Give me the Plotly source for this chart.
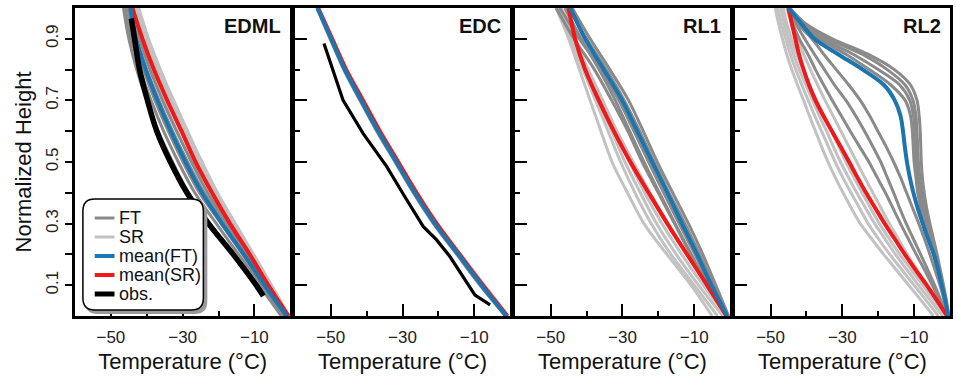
import plotly.graph_objects as go

# ---------------- data ----------------
H = [1.0, 0.9, 0.8, 0.7, 0.6, 0.5, 0.4, 0.3, 0.2, 0.1, 0.0]
H_FINE = [1.0, 0.95, 0.9, 0.85, 0.8, 0.75, 0.7, 0.65, 0.6, 0.55, 0.5,
          0.45, 0.4, 0.35, 0.3, 0.25, 0.2, 0.15, 0.1, 0.05, 0.0]

SITES = ["EDML", "EDC", "RL1", "RL2"]

# EDML
EDML_FT = [
    [-46.5, -45.0, -42.8, -40.0, -36.8, -32.8, -28.3, -22.3, -15.8, -8.8, -2.5],
    [-46.0, -44.3, -41.8, -38.8, -35.3, -31.2, -26.6, -20.6, -14.4, -7.9, -1.8],
    [-45.3, -43.5, -40.9, -37.7, -34.0, -29.9, -25.3, -19.3, -13.3, -7.3, -1.4],
    [-44.8, -42.8, -40.0, -36.6, -32.8, -28.6, -24.0, -18.2, -12.4, -6.8, -1.0],
    [-44.2, -42.0, -39.1, -35.6, -31.7, -27.5, -23.0, -17.4, -11.8, -6.4, -0.8],
]
EDML_SR = [
    [-44.0, -41.8, -38.8, -35.3, -31.5, -27.5, -23.0, -17.6, -11.9, -6.2, -0.7],
    [-43.4, -41.0, -37.9, -34.3, -30.4, -26.4, -21.9, -16.7, -11.2, -5.8, -0.5],
    [-42.8, -40.2, -37.0, -33.3, -29.4, -25.4, -21.0, -15.9, -10.6, -5.4, -0.4],
    [-42.2, -39.5, -36.2, -32.5, -28.6, -24.6, -20.3, -15.3, -10.2, -5.2, -0.3],
]
EDML_MEAN_FT = [-44.6, -43.0, -40.3, -37.0, -33.3, -29.2, -24.6, -19.0, -12.9, -7.2, -1.0]
EDML_MEAN_SR = [-44.0, -41.2, -38.0, -34.3, -30.3, -26.4, -21.8, -16.8, -11.3, -6.1, -0.5]
EDML_OBS_H = [0.966, 0.9, 0.8, 0.7, 0.6, 0.5, 0.4, 0.3, 0.2, 0.1, 0.065]
EDML_OBS_T = [-44.3, -43.4, -42.0, -39.8, -37.2, -33.4, -28.8, -22.8, -15.9, -9.5, -7.5]

# EDC
EDC_FT = [
    [-53.9, -50.2, -46.4, -41.9, -37.2, -32.1, -27.0, -21.4, -14.9, -8.4, -1.3],
    [-53.6, -49.8, -45.9, -41.3, -36.6, -31.5, -26.3, -20.7, -14.2, -7.7, -0.9],
]
EDC_SR = [
    [-53.6, -49.7, -45.8, -41.1, -36.4, -31.3, -26.0, -20.3, -13.8, -7.2, -0.5],
    [-53.8, -50.0, -46.2, -41.6, -36.9, -31.8, -26.7, -21.1, -14.6, -8.1, -1.2],
]
EDC_MEAN_FT = [-53.7, -49.9, -46.1, -41.5, -36.8, -31.7, -26.6, -21.0, -14.5, -8.0, -1.1]
EDC_MEAN_SR = [-53.5, -49.6, -45.7, -41.0, -36.3, -31.2, -26.1, -20.5, -14.1, -7.6, -0.8]
EDC_OBS_H = [0.885, 0.701, 0.593, 0.485, 0.388, 0.290, 0.247, 0.193, 0.068, 0.036]
EDC_OBS_T = [-51.9, -46.6, -41.0, -34.4, -29.4, -24.2, -20.5, -16.8, -9.8, -5.6]

# RL1
RL1_FT = [
    [-44.0, -39.0, -33.5, -28.3, -24.2, -20.3, -16.0, -11.6, -7.6, -4.0, -0.4],
    [-45.0, -40.0, -34.5, -29.5, -25.2, -21.2, -17.0, -12.6, -8.5, -4.6, -0.6],
    [-47.5, -42.0, -36.0, -31.0, -26.8, -22.7, -18.5, -14.2, -9.8, -5.6, -0.8],
    [-48.5, -43.5, -37.8, -33.0, -28.5, -24.5, -20.0, -15.5, -11.0, -6.5, -1.0],
    [-46.0, -41.5, -36.5, -32.0, -28.0, -24.0, -19.7, -15.3, -10.8, -6.2, -1.0],
]
RL1_SR = [
    [-48.5, -45.0, -42.0, -39.0, -36.0, -32.9, -28.6, -24.0, -17.6, -10.9, -5.0],
    [-48.0, -44.5, -41.0, -37.5, -34.0, -30.5, -26.5, -22.0, -16.5, -10.0, -3.5],
    [-47.0, -44.0, -40.5, -36.8, -33.0, -29.3, -25.0, -20.5, -15.0, -8.8, -2.0],
    [-46.0, -43.8, -40.0, -36.0, -32.0, -28.0, -23.8, -19.0, -13.5, -7.5, -1.0],
    [-45.5, -43.5, -39.5, -35.5, -31.5, -27.0, -22.3, -17.3, -12.0, -6.5, -0.5],
]
RL1_MEAN_FT = [-44.5, -40.4, -35.2, -30.1, -25.9, -21.7, -17.5, -13.4, -9.2, -5.2, -0.8]
RL1_MEAN_SR = [-45.0, -43.2, -40.4, -36.6, -32.4, -27.8, -22.7, -17.5, -12.0, -6.4, -1.0]

# RL2 (fine height grid)
RL2_FT = [
    [-44.6, -40.3, -32.8, -22.9, -15.5, -11.0, -9.2, -8.6, -8.3, -8.15, -8.0,
     -7.7, -7.2, -6.5, -5.6, -4.6, -3.6, -2.7, -1.8, -1.0, -0.3],
    [-44.8, -41.0, -34.0, -24.5, -17.5, -12.5, -10.3, -9.5, -9.2, -9.0, -8.8,
     -8.4, -7.9, -7.1, -6.1, -5.1, -4.0, -3.0, -2.0, -1.2, -0.4],
    [-45.0, -41.5, -35.5, -27.0, -20.0, -14.0, -11.2, -10.2, -9.8, -9.6, -9.4,
     -9.0, -8.5, -7.6, -6.6, -5.5, -4.3, -3.2, -2.2, -1.3, -0.5],
    [-45.2, -42.0, -36.5, -29.0, -22.5, -16.5, -12.5, -11.0, -10.5, -10.25, -10.0,
     -9.5, -9.0, -8.1, -7.0, -5.8, -4.6, -3.4, -2.3, -1.4, -0.5],
    [-45.0, -42.5, -38.5, -35.2, -31.7, -28.2, -25.0, -22.4, -20.1, -17.8, -15.7,
     -13.8, -12.1, -10.4, -8.7, -7.1, -5.6, -4.2, -2.8, -1.6, -0.6],
    [-45.0, -43.0, -40.5, -37.8, -35.0, -32.2, -29.0, -26.3, -23.8, -21.5, -19.3,
     -17.5, -15.7, -14.0, -12.2, -10.2, -8.2, -6.2, -4.3, -2.5, -0.8],
    [-45.2, -43.8, -42.0, -39.6, -37.5, -35.2, -32.8, -30.3, -27.8, -25.2, -22.6,
     -20.3, -18.0, -15.9, -13.8, -11.6, -9.4, -7.1, -4.9, -2.8, -0.8],
]
RL2_SR = [
    [-48.7, -47.8, -46.7, -45.5, -44.1, -42.5, -40.8, -39.2, -37.5, -35.8, -34.0,
     -32.0, -29.8, -27.5, -25.0, -21.8, -18.5, -15.0, -11.5, -8.0, -4.6],
    [-48.0, -47.0, -45.8, -44.5, -43.0, -41.3, -39.5, -37.7, -35.8, -33.9, -32.0,
     -29.9, -27.6, -25.2, -22.8, -19.9, -16.8, -13.4, -10.0, -6.6, -3.2],
    [-47.2, -46.2, -45.0, -43.6, -42.0, -40.2, -38.3, -36.4, -34.4, -32.5, -30.5,
     -28.3, -26.0, -23.5, -21.0, -18.1, -15.2, -12.0, -8.8, -5.4, -2.0],
    [-46.5, -45.5, -44.2, -42.7, -41.0, -39.2, -37.2, -35.2, -33.0, -31.0, -29.0,
     -26.8, -24.5, -22.1, -19.7, -16.9, -14.0, -10.8, -7.6, -4.3, -1.0],
    [-45.5, -44.2, -42.6, -40.8, -38.9, -36.9, -34.8, -32.6, -30.4, -28.2, -26.0,
     -23.8, -21.5, -19.2, -16.9, -14.4, -11.9, -9.2, -6.4, -3.5, -0.6],
]
RL2_MEAN_FT = [-45.0, -41.5, -37.8, -31.2, -24.3, -18.4, -15.4, -13.8, -13.1, -12.6, -12.0,
               -11.2, -10.2, -9.0, -7.6, -6.1, -4.5, -3.3, -2.3, -1.3, -0.5]
RL2_MEAN_SR = [-45.0, -44.1, -43.1, -42.1, -40.8, -39.3, -37.5, -35.3, -32.9, -30.5, -28.1,
               -25.8, -23.4, -20.8, -18.2, -15.4, -12.6, -9.6, -6.5, -3.6, -0.8]

LEGEND_NAMES = ["FT", "SR", "mean(FT)", "mean(SR)", "obs."]

X_TICKS = [-50, -30, -10]
Y_TICKS = [0.1, 0.3, 0.5, 0.7, 0.9]
Y_MINOR = [0.2, 0.4, 0.6, 0.8]

# ---------------- styling ----------------
C_FT = "#8a8a8a"
C_SR = "#c2c2c2"
C_MFT = "#1d75b0"
C_MSR = "#f01818"
C_OBS = "#000000"
FONT = "Liberation Sans, Arial, sans-serif"

W, H_PX = 956, 377
ML, MR, MT, MB = 75, 3, 8, 61
PW = W - ML - MR
PANEL_W = 216
GAP = (PW - 4 * PANEL_W) / 3

panels = {
    "EDML": dict(h=H, ft=EDML_FT, sr=EDML_SR, mft=EDML_MEAN_FT, msr=EDML_MEAN_SR,
                 obs=(EDML_OBS_H, EDML_OBS_T), obs_w=5.5, obs_shape="spline"),
    "EDC": dict(h=H, ft=EDC_FT, sr=EDC_SR, mft=EDC_MEAN_FT, msr=EDC_MEAN_SR,
                obs=(EDC_OBS_H, EDC_OBS_T), obs_w=3.2, obs_shape="linear"),
    "RL1": dict(h=H, ft=RL1_FT, sr=RL1_SR, mft=RL1_MEAN_FT, msr=RL1_MEAN_SR, obs=None),
    "RL2": dict(h=H_FINE, ft=RL2_FT, sr=RL2_SR, mft=RL2_MEAN_FT, msr=RL2_MEAN_SR, obs=None),
}

fig = go.Figure()
layout = dict(
    width=W, height=H_PX,
    margin=dict(l=ML, r=MR, t=MT, b=MB, pad=0),
    paper_bgcolor="white", plot_bgcolor="white",
    showlegend=False,
    font=dict(family=FONT, color="#1a1a1a"),
)

for i, site in enumerate(SITES):
    k = i + 1
    sx = "" if k == 1 else str(k)
    xa, ya = "x" + sx, "y" + sx
    d = panels[site]
    for t in d["sr"]:
        fig.add_trace(go.Scatter(x=t, y=d["h"], xaxis=xa, yaxis=ya, mode="lines",
                                 line=dict(color=C_SR, width=3, shape="spline", smoothing=0.9),
                                 hoverinfo="skip"))
    for t in d["ft"]:
        fig.add_trace(go.Scatter(x=t, y=d["h"], xaxis=xa, yaxis=ya, mode="lines",
                                 line=dict(color=C_FT, width=3, shape="spline", smoothing=0.9),
                                 hoverinfo="skip"))
    fig.add_trace(go.Scatter(x=d["msr"], y=d["h"], xaxis=xa, yaxis=ya, mode="lines",
                             line=dict(color=C_MSR, width=4, shape="spline", smoothing=0.9)))
    fig.add_trace(go.Scatter(x=d["mft"], y=d["h"], xaxis=xa, yaxis=ya, mode="lines",
                             line=dict(color=C_MFT, width=4, shape="spline", smoothing=0.9)))
    if d["obs"] is not None:
        oh, ot = d["obs"]
        fig.add_trace(go.Scatter(x=ot, y=oh, xaxis=xa, yaxis=ya, mode="lines",
                                 line=dict(color=C_OBS, width=d["obs_w"], shape=d["obs_shape"]),
                                 hoverinfo="skip"))

    x0 = i * (PANEL_W + GAP) / PW
    x1 = (i * (PANEL_W + GAP) + PANEL_W) / PW
    layout["xaxis" + sx] = dict(
        domain=[x0, x1], anchor=ya, range=[-60, 0],
        tickmode="array", tickvals=X_TICKS, ticktext=["\u221250", "\u221230", "\u221210"],
        ticks="inside", ticklen=12, tickwidth=2, tickcolor="black", ticklabelstandoff=4,
        minor=dict(tickvals=[-40, -20], ticks="inside", ticklen=5, tickwidth=2, tickcolor="black"),
        showline=True, linewidth=3, linecolor="black", mirror=True,
        showgrid=False, zeroline=False,
        tickfont=dict(size=17, color="#222"),
        title=dict(text="Temperature (\u00b0C)", font=dict(size=22, color="#111"), standoff=8),
    )
    left = dict(domain=[0, 1], anchor=xa, range=[0, 1], showgrid=False, zeroline=False,
                showline=True, linewidth=3, linecolor="black", mirror=True,
                tickmode="array", tickvals=Y_TICKS, tickwidth=2, tickcolor="black")
    if k == 1:
        left.update(ticks="outside", ticklen=7, tickangle=-90, tickfont=dict(size=17, color="#222"),
                    minor=dict(tickvals=Y_MINOR, ticks="outside", ticklen=7,
                               tickwidth=2, tickcolor="black"),
                    title=dict(text="Normalized Height", font=dict(size=22, color="#111"), standoff=6))
    else:
        left.update(showticklabels=False, ticks="inside", ticklen=12,
                    minor=dict(tickvals=Y_MINOR, ticks="inside", ticklen=5,
                               tickwidth=2, tickcolor="black"))
    layout["yaxis" + sx] = left
    layout["yaxis" + str(k + 4)] = dict(
        overlaying=ya, side="right", anchor=xa, range=[0, 1], showgrid=False, zeroline=False,
        showticklabels=False, tickmode="array",
        tickvals=[0.1, 0.2, 0.3, 0.4, 0.5, 0.6, 0.7, 0.8, 0.9],
        ticks="inside", ticklen=7, tickwidth=2, tickcolor="black", showline=False,
    )

annotations = []
shapes = []
for i, site in enumerate(SITES):
    sx = "" if i == 0 else str(i + 1)
    annotations.append(dict(text="<b>" + site + "</b>", x=1, y=1, xref="x" + sx + " domain",
                            yref="y" + sx + " domain", xanchor="right", yanchor="top",
                            xshift=-7, yshift=-5, showarrow=False,
                            font=dict(size=20, color="#111", family=FONT)))

# legend (custom, inside EDML panel)
PX_W = PANEL_W + 2
def dx(px):
    return (px - ML) / PX_W
def dy(py):
    return (H_PX - MB - py) / (H_PX - MT - MB)

def rounded(xa, ya, xb, yb, r):
    rx, ry = r / PX_W, r / (H_PX - MT - MB)
    X0, X1, Y0, Y1 = dx(xa), dx(xb), dy(yb), dy(ya)
    return (f"M {X0+rx},{Y0} L {X1-rx},{Y0} Q {X1},{Y0} {X1},{Y0+ry} "
            f"L {X1},{Y1-ry} Q {X1},{Y1} {X1-rx},{Y1} L {X0+rx},{Y1} "
            f"Q {X0},{Y1} {X0},{Y1-ry} L {X0},{Y0+ry} Q {X0},{Y0} {X0+rx},{Y0} Z")

shapes.append(dict(type="path", xref="x domain", yref="y domain",
                   path=rounded(86, 202, 208, 313, 12), fillcolor="#9a9a9a",
                   line=dict(color="#9a9a9a", width=2)))
shapes.append(dict(type="path", xref="x domain", yref="y domain",
                   path=rounded(83, 199, 205, 310, 12), fillcolor="white",
                   line=dict(color="black", width=1.5)))
leg_colors = [C_FT, C_SR, C_MFT, C_MSR, C_OBS]
leg_widths = [3, 3, 4, 4, 5]
for j, name in enumerate(LEGEND_NAMES):
    py = 218 + j * 19
    shapes.append(dict(type="line", xref="x domain", yref="y domain",
                       x0=dx(95), x1=dx(115), y0=dy(py), y1=dy(py),
                       line=dict(color=leg_colors[j], width=leg_widths[j])))
    annotations.append(dict(text=name, x=dx(118), y=dy(py), xref="x domain", yref="y domain",
                            xanchor="left", yanchor="middle", showarrow=False,
                            font=dict(size=18, color="#111", family=FONT)))

layout["annotations"] = annotations
layout["shapes"] = shapes
fig.update_layout(**layout)
fig.write_html("out.html", config={"displayModeBar": False},
               post_script="document.body.style.margin='0px';document.body.style.overflow='hidden';")
